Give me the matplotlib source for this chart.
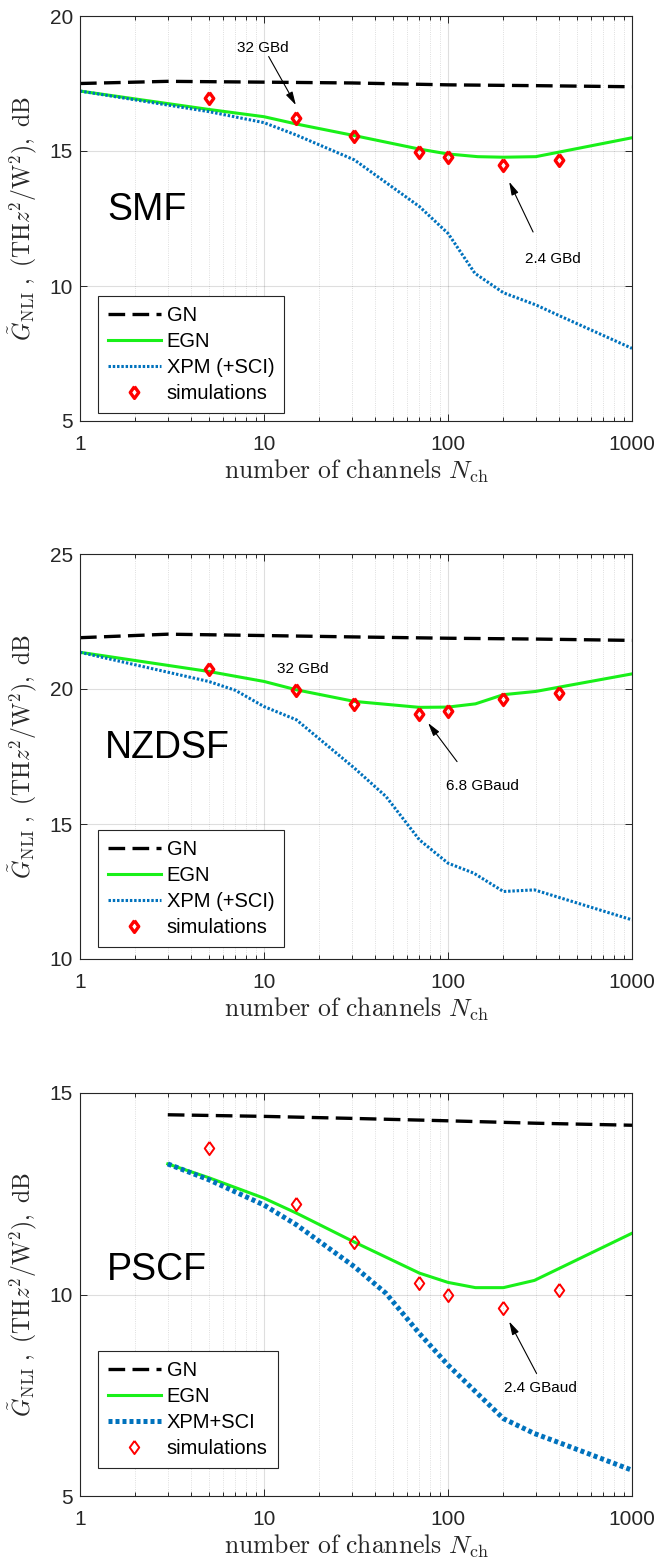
import numpy as np
import matplotlib
matplotlib.use('Agg')
import matplotlib.pyplot as plt

plt.rcParams['font.family'] = ['Liberation Sans', 'DejaVu Sans']
plt.rcParams['mathtext.fontset'] = 'cm'

# ---- data ----
sim_x = [5, 15, 31, 70, 100, 200, 400]

# SMF
smf_gn_x = [1, 3, 10, 30, 100, 300, 1000]
smf_gn = [17.50, 17.58, 17.55, 17.52, 17.45, 17.42, 17.38]
smf_egn_x = [1, 5, 10, 15, 31, 70, 100, 145, 200, 300, 1000]
smf_egn = [17.22, 16.54, 16.27, 16.00, 15.57, 15.07, 14.89, 14.79, 14.77, 14.79, 15.49]
smf_xpm_x = [1, 5, 10, 15, 31, 70, 100, 140, 200, 300, 415, 1000]
smf_xpm = [17.22, 16.46, 16.05, 15.59, 14.67, 12.94, 11.95, 10.47, 9.75, 9.30, 8.86, 7.69]
smf_sim = [16.98, 16.21, 15.56, 14.98, 14.77, 14.48, 14.67]

# NZDSF
nz_gn_x = [1, 3, 10, 30, 100, 300, 1000]
nz_gn = [21.90, 22.03, 21.98, 21.93, 21.88, 21.85, 21.80]
nz_egn_x = [1, 5, 10, 15, 31, 70, 100, 141, 200, 300, 1000]
nz_egn = [21.36, 20.65, 20.28, 19.97, 19.54, 19.32, 19.33, 19.45, 19.79, 19.91, 20.56]
nz_xpm_x = [1, 5, 7, 10, 15, 31, 46, 70, 100, 138, 200, 295, 1000]
nz_xpm = [21.36, 20.28, 19.95, 19.35, 18.86, 17.07, 16.02, 14.41, 13.55, 13.18, 12.50, 12.56, 11.45]
nz_sim = [20.75, 19.95, 19.45, 19.08, 19.19, 19.62, 19.85]

# PSCF
ps_gn_x = [3, 10, 30, 100, 300, 1000]
ps_gn = [14.46, 14.42, 14.37, 14.31, 14.25, 14.20]
ps_egn_x = [3, 5, 10, 15, 31, 70, 100, 141, 200, 295, 1000]
ps_egn = [13.24, 12.90, 12.39, 12.02, 11.30, 10.53, 10.30, 10.17, 10.17, 10.35, 11.52]
ps_xpm_x = [3, 5, 10, 15, 31, 46, 70, 100, 200, 295, 415, 1000]
ps_xpm = [13.24, 12.85, 12.22, 11.73, 10.69, 10.03, 9.03, 8.25, 6.92, 6.55, 6.30, 5.64]
ps_sim = [13.63, 12.25, 11.30, 10.28, 10.00, 9.66, 10.11]

panels = [
    dict(name='SMF', gn=(smf_gn_x, smf_gn), egn=(smf_egn_x, smf_egn), xpm=(smf_xpm_x, smf_xpm),
         sim=smf_sim, ylim=(5, 20), yticks=[5, 10, 15, 20], xpm_label='XPM (+SCI)', xpm_lw=2.2,
         name_pos=(1.4, 12.8),
         notes=[('32 GBd', (9.9, 18.8), (10.6, 18.5), (14.9, 16.7)),
                ('2.4 GBd', (373, 11.0), (290, 12.0), (215, 13.86))],
         rect=[80/655, 1-421/1562, 552/655, 405/1562], leg_y=0.02),
    dict(name='NZDSF', gn=(nz_gn_x, nz_gn), egn=(nz_egn_x, nz_egn), xpm=(nz_xpm_x, nz_xpm),
         sim=nz_sim, ylim=(10, 25), yticks=[10, 15, 20, 25], xpm_label='XPM (+SCI)', xpm_lw=2.2,
         name_pos=(1.37, 17.8),
         notes=[('32 GBd', (16.3, 20.75), None, None),
                ('6.8 GBaud', (153, 16.39), (112, 17.31), (78, 18.74))],
         rect=[80/655, 1-959/1562, 552/655, 405/1562], leg_y=0.03),
    dict(name='PSCF', gn=(ps_gn_x, ps_gn), egn=(ps_egn_x, ps_egn), xpm=(ps_xpm_x, ps_xpm),
         sim=ps_sim, ylim=(5, 15), yticks=[5, 10, 15], xpm_label='XPM+SCI', xpm_lw=3.6,
         name_pos=(1.4, 10.6),
         notes=[('2.4 GBaud', (319, 7.68), (303, 8.04), (215, 9.33))],
         rect=[80/655, 1-1496/1562, 552/655, 403/1562], leg_y=0.07),
]

diamond = [(0, 1), (0.72, 0), (0, -1), (-0.72, 0), (0, 1)]

fig = plt.figure(figsize=(6.55, 15.62), dpi=100)
axc = (0.15, 0.15, 0.15)

for p in panels:
    ax = fig.add_axes(p['rect'])
    ax.set_xscale('log')
    l1, = ax.plot(*p['gn'], color='k', lw=2.4, dashes=(5, 2.2), label='GN')
    l2, = ax.plot(*p['egn'], color='#19f019', lw=2.2, label='EGN')
    l3, = ax.plot(*p['xpm'], color='#0072BD', lw=p['xpm_lw'], linestyle=(0, (0.8, 0.6)),
                  label=p['xpm_label'])
    thick = p['name'] != 'PSCF'
    l4, = ax.plot(sim_x, p['sim'], linestyle='none', marker=diamond, ms=8.5 if thick else 9.5,
                  mfc='none', mec='red', mew=2.4 if thick else 1.4, label='simulations')
    ax.set_xlim(1, 1000)
    ax.set_ylim(*p['ylim'])
    ax.set_yticks(p['yticks'])
    ax.set_xticks([1, 10, 100, 1000])
    ax.set_xticklabels(['1', '10', '100', '1000'])
    ax.grid(True, which='major', color=axc, alpha=0.15, lw=0.8)
    ax.grid(True, which='minor', axis='x', color=axc, alpha=0.2, lw=0.6, linestyle=':')
    ax.tick_params(which='both', direction='in', top=True, right=True, colors=axc,
                   labelsize=15, width=0.7)
    ax.tick_params(which='major', length=5)
    ax.tick_params(which='minor', length=3)
    ax.tick_params(axis='x', pad=10)
    ax.tick_params(axis='y', pad=5)
    for s in ax.spines.values():
        s.set_color(axc)
        s.set_linewidth(0.8)
    ax.set_xlabel(r'$\mathrm{number\ of\ channels}\ N_{\mathrm{ch}}$', fontsize=18.5, color='#262626')
    ax.xaxis.set_label_coords(0.5, -0.09)
    ax.set_ylabel(r'$\tilde{G}_{\mathrm{NLI}}\ ,\ (\mathrm{TH}z^2/\mathrm{W}^2),\ \mathrm{dB}$',
                  fontsize=17, color='#262626')
    ax.yaxis.set_label_coords(-0.075, 0.5)
    ax.text(p['name_pos'][0], p['name_pos'][1], p['name'], fontsize=27, va='center', ha='left')
    for txt, tpos, tail, head in p['notes']:
        ax.text(tpos[0], tpos[1], txt, fontsize=11, ha='center', va='center')
        if tail is not None:
            ax.annotate('', xy=head, xytext=tail,
                        arrowprops=dict(arrowstyle='-|>,head_length=0.8,head_width=0.22',
                                        color='k', lw=0.8, shrinkA=0, shrinkB=0))
    leg = ax.legend(handles=[l1, l2, l3, l4], loc='lower left',
                    bbox_to_anchor=(0.033, p['leg_y']), fontsize=14.5, handlelength=2.6,
                    fancybox=False, edgecolor=axc, framealpha=1, borderpad=0.5,
                    labelspacing=0.35, handletextpad=0.3, borderaxespad=0)
    leg.get_frame().set_linewidth(0.8)

plt.savefig('out.png', dpi=100)
